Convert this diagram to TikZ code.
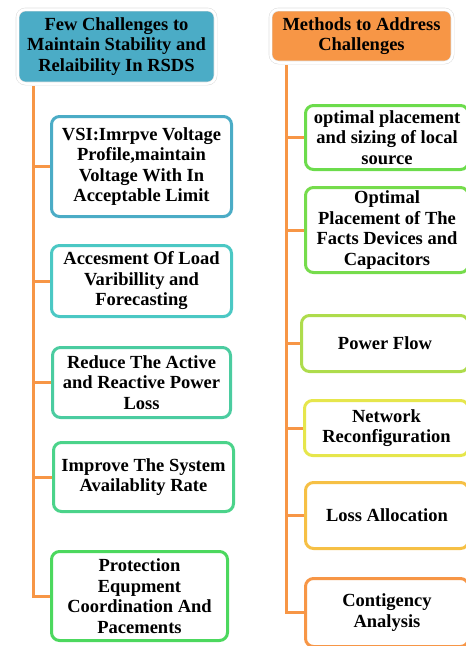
\documentclass[tikz,border=0pt]{standalone}
\usepackage{fontspec}
\setmainfont{Liberation Serif}
\usetikzlibrary{positioning}
\definecolor{chalblue}{HTML}{4BACC6}
\definecolor{methorange}{HTML}{F79646}
\definecolor{cteal}{HTML}{4BC8C4}
\definecolor{cseagreen}{HTML}{4BCCA0}
\definecolor{cmint}{HTML}{4BD38A}
\definecolor{cgreen}{HTML}{4CD85E}
\definecolor{mgreen}{HTML}{6CDC4C}
\definecolor{mlime}{HTML}{AEDC4C}
\definecolor{myellow}{HTML}{E6E64C}
\definecolor{mgold}{HTML}{F6C045}

\begin{document}
\begin{tikzpicture}[x=1pt, y=-1pt,
    head/.style={fill=#1, draw=black!12, double=white, double distance=2.5pt, line width=0.6pt,
        rounded corners=8pt, align=center, font=\bfseries\fontsize{18.5}{20.5}\selectfont, inner sep=2pt},
    item/.style={draw=#1, line width=3pt, fill=white, rounded corners=8pt,
        align=center, font=\bfseries\fontsize{18.5}{20.5}\selectfont, inner sep=2pt},
    branch/.style={draw=methorange, line width=3pt}
]
\clip (0,0) rectangle (466,646);

\node[head=chalblue, minimum width=198pt, minimum height=74pt] (ltitle) at (116.5,46.5)
    {Few Challenges to\\Maintain Stability and\\Relaibility In RSDS};
\node[head=methorange, minimum width=182pt, minimum height=53pt] (rtitle) at (361.5,36)
    {Methods to Address\\Challenges};

\node[item=chalblue, minimum width=180pt, minimum height=100pt] (vsi) at (141.5,166.5)
    {VSI:Imrpve Voltage\\Profile,maintain\\Voltage With In\\Acceptable Limit};
\node[item=cteal, minimum width=180pt, minimum height=71pt] (load) at (141.5,281)
    {Accesment Of Load\\Varibillity and\\Forecasting};
\node[item=cseagreen, minimum width=178pt, minimum height=70pt] (loss) at (141.5,382.5)
    {Reduce The Active\\and Reactive Power\\Loss};
\node[item=cmint, minimum width=180pt, minimum height=69pt] (avail) at (143.5,477)
    {Improve The System\\Availablity Rate};
\node[item=cgreen, minimum width=176pt, minimum height=89pt] (prot) at (139.5,596)
    {Protection\\Equpment\\Coordination And\\Pacements};

\node[item=mgreen, minimum width=163pt, minimum height=64pt] (source) at (387,137.5)
    {optimal placement\\and sizing of local\\source};
\node[item=mgreen!85!mlime, minimum width=163pt, minimum height=85pt] (facts) at (387,230)
    {Optimal\\Placement of The\\Facts Devices and\\Capacitors};
\node[item=mlime, minimum width=167pt, minimum height=56pt] (flow) at (385,343.5)
    {Power Flow};
\node[item=myellow, minimum width=164pt, minimum height=55pt] (netw) at (386.5,428)
    {Network\\Reconfiguration};
\node[item=mgold, minimum width=163pt, minimum height=66pt] (alloc) at (387,515.5)
    {Loss Allocation};
\node[item=methorange, minimum width=163pt, minimum height=68pt] (cont) at (387,612.5)
    {Contigency\\Analysis};

\coordinate (ltop) at (33,86);
\coordinate (rtop) at (286,65);
\foreach \n in {vsi,load,loss,avail,prot}
    \draw[branch] (ltop) |- (\n);
\foreach \n in {source,facts,flow,netw,alloc,cont}
    \draw[branch] (rtop) |- (\n);
\end{tikzpicture}
\end{document}
